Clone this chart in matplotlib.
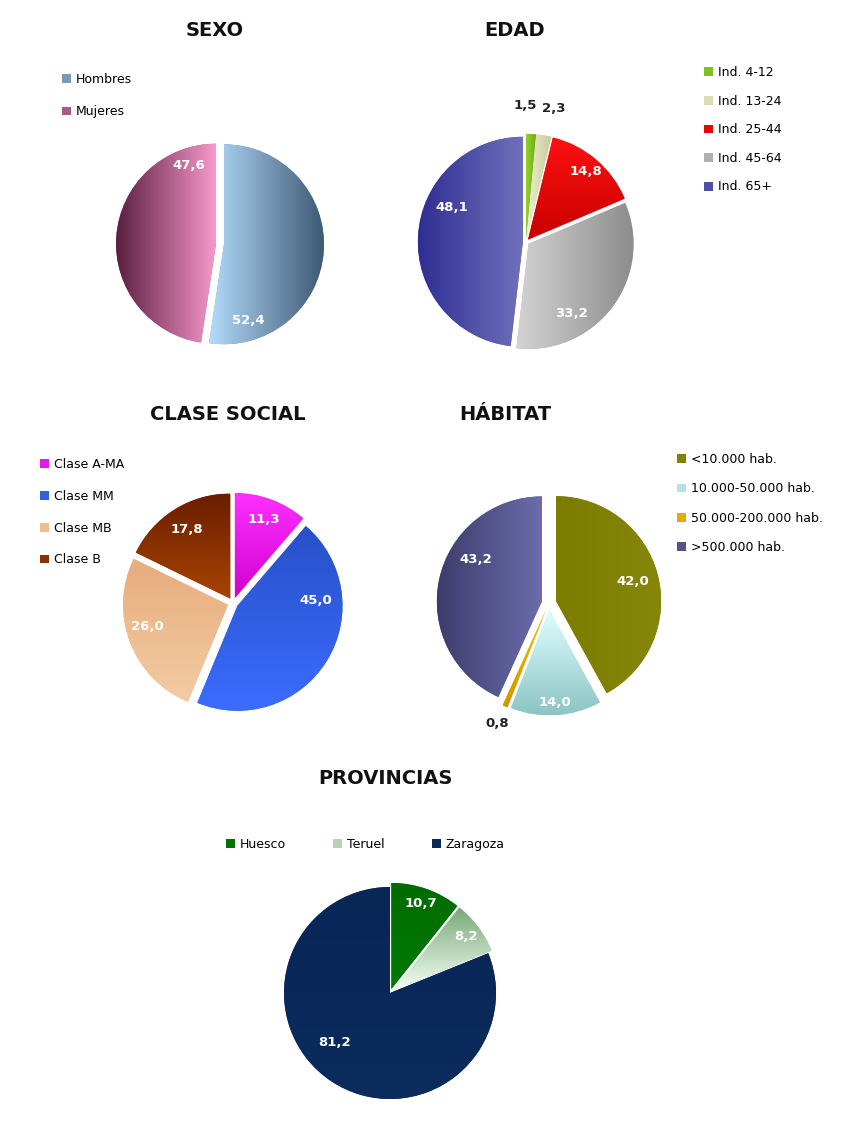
import numpy as np
import matplotlib
matplotlib.use("Agg")
import matplotlib.pyplot as plt
from matplotlib.colors import LinearSegmentedColormap, to_rgb
from matplotlib.patches import Patch

W, H = 850, 1122

# data
sexo_labels = ["Hombres", "Mujeres"]
sexo_vals = [52.4, 47.6]

edad_labels = ["Ind. 4-12", "Ind. 13-24", "Ind. 25-44", "Ind. 45-64", "Ind. 65+"]
edad_vals = [1.5, 2.3, 14.8, 33.2, 48.1]

clase_labels = ["Clase A-MA", "Clase MM", "Clase MB", "Clase B"]
clase_vals = [11.3, 45.0, 26.0, 17.8]

habitat_labels = ["<10.000 hab.", "10.000-50.000 hab.", "50.000-200.000 hab.", ">500.000 hab."]
habitat_vals = [42.0, 14.0, 0.8, 43.2]

prov_labels = ["Huesco", "Teruel", "Zaragoza"]
prov_vals = [10.7, 8.2, 81.2]

plt.rcParams["font.family"] = "DejaVu Sans"
fig = plt.figure(figsize=(W / 100, H / 100), dpi=100)
fig.patch.set_facecolor("white")

S = 1.4


def pie_axes(cx, cy, r):
    ax = fig.add_axes([(cx - S * r) / W, 1 - (cy + S * r) / H, 2 * S * r / W, 2 * S * r / H])
    ax.axis("off")
    return ax


def mid(c1, c2):
    a, b = np.array(to_rgb(c1)), np.array(to_rgb(c2))
    return tuple((a + b) / 2)


def fmt(v):
    return f"{v:.1f}".replace(".", ",")


def draw_pie(ax, vals, grads, explode, fracs, radii, dark=()):
    wedges, _ = ax.pie(vals, explode=explode, startangle=90, counterclock=False,
                       colors=[mid(g[0], g[1]) for g in grads],
                       wedgeprops=dict(linewidth=0))
    # gradient fill clipped to each wedge
    for w, (c1, c2, d) in zip(wedges, grads):
        ext = w.get_path().get_extents()
        g = np.linspace(0, 1, 256)
        arr = g[None, :] if d == "h" else g[:, None]
        cmap = LinearSegmentedColormap.from_list("", [c1, c2])
        im = ax.imshow(arr, cmap=cmap, origin="upper", aspect="auto",
                       extent=(ext.x0, ext.x1, ext.y0, ext.y1), zorder=2)
        im.set_clip_path(w)
    for i, (w, v) in enumerate(zip(wedges, vals)):
        a = np.radians(w.theta2 - fracs[i] * (w.theta2 - w.theta1))
        x = w.center[0] + radii[i] * np.cos(a)
        y = w.center[1] + radii[i] * np.sin(a)
        col = "#222222" if i in dark else "white"
        ax.text(x, y, fmt(v), ha="center", va="center", color=col,
                fontsize=9.5, fontweight="bold", zorder=5, clip_on=False)
    ax.set_xlim(-S, S)
    ax.set_ylim(-S, S)
    ax.set_aspect("equal")
    return wedges


def legend(ax, labels, grads, x, y, spacing, ncol=1, colsp=2.0):
    handles = [Patch(facecolor=mid(g[0], g[1]), edgecolor="none") for g in grads]
    ax.legend(handles, labels, loc="upper left", bbox_to_anchor=(x / W, 1 - y / H),
              bbox_transform=fig.transFigure, frameon=False, fontsize=9,
              handlelength=0.7, handleheight=0.7, handletextpad=0.4,
              labelspacing=spacing, ncol=ncol, columnspacing=colsp, borderaxespad=0,
              borderpad=0)


def title(txt, x, y):
    fig.text(x / W, 1 - y / H, txt, ha="center", va="center", fontsize=14,
             fontweight="bold", color="#111111")


# SEXO
sexo_grads = [("#b4dcfc", "#3c5872", "h"), ("#5a1e3e", "#f898cc", "h")]
ax = pie_axes(220, 244, 100)
draw_pie(ax, sexo_vals, sexo_grads, [0.04, 0.04], [0.86, 0.89], [0.8, 0.83])
legend(ax, sexo_labels, sexo_grads, 62, 73, 1.55)
title("SEXO", 215, 30)

# EDAD
edad_grads = [("#90d030", "#70b010", "h"), ("#f0f0c8", "#c8c8a0", "h"),
              ("#ff1010", "#c80000", "v"), ("#d4d4d4", "#8c8c8c", "h"),
              ("#2e2e92", "#7070bc", "h")]
ax = pie_axes(526, 242, 105)
draw_pie(ax, edad_vals, edad_grads, [0.03] * 5, [-0.1, 0.75, 0.5, 0.68, 0.63],
         [1.27, 1.27, 0.85, 0.78, 0.75], dark=(0, 1))
legend(ax, edad_labels, edad_grads, 704, 66, 1.25)
title("EDAD", 515, 30)

# CLASE SOCIAL
clase_grads = [("#ff30ff", "#d000d0", "v"), ("#2850c8", "#3a6cff", "v"),
               ("#e6ac7c", "#f4cca4", "v"), ("#6a1e00", "#a84400", "v")]
ax = pie_axes(233, 603, 105)
draw_pie(ax, clase_vals, clase_grads, [0.05] * 4, [0.5, 0.28, 0.56, 0.5], [0.8, 0.75, 0.8, 0.78])
legend(ax, clase_labels, clase_grads, 40, 458, 1.5)
title("CLASE SOCIAL", 228, 415)

# HABITAT
habitat_grads = [("#7c7c00", "#86860a", "h"), ("#e0ffff", "#8cc4c4", "v"),
                 ("#f0c000", "#d09800", "v"), ("#3c3c6c", "#6c6cac", "h")]
ax = pie_axes(549, 603, 105)
draw_pie(ax, habitat_vals, habitat_grads, [0.07] * 4, [0.5, 0.5, 0.5, 0.63],
         [0.75, 0.88, 1.18, 0.74], dark=(2,))
legend(ax, habitat_labels, habitat_grads, 677, 453, 1.3)
title("HÁBITAT", 505, 415)

# PROVINCIAS
prov_grads = [("#006c00", "#007a00", "v"), ("#78a878", "#f4fff4", "v"),
              ("#082656", "#0c2c5e", "v")]
ax = pie_axes(390, 993, 106)
draw_pie(ax, prov_vals, prov_grads, [0.04, 0.04, 0.0], [0.5, 0.5, 0.55], [0.85, 0.85, 0.7])
legend(ax, prov_labels, prov_grads, 226, 838, 1.0, ncol=3, colsp=3.8)
title("PROVINCIAS", 385, 778)

fig.savefig("out.png", dpi=100, facecolor="white")
